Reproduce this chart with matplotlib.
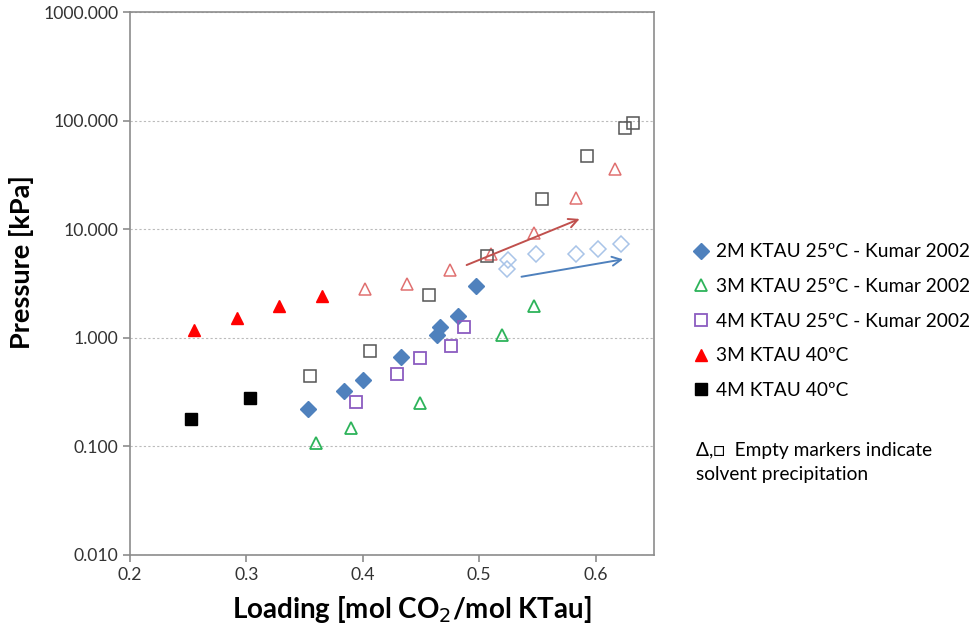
import matplotlib
matplotlib.use("Agg")
import matplotlib.pyplot as plt
from matplotlib.ticker import FixedLocator, FuncFormatter, NullLocator

plt.rcParams['font.family'] = ['Lato', 'DejaVu Sans']

# 2M KTAU 25C - Kumar 2002
kumar2m_x = [0.353, 0.384, 0.400, 0.433, 0.464, 0.466, 0.482, 0.497]
kumar2m_y = [0.222, 0.321, 0.406, 0.662, 1.06, 1.26, 1.59, 3.00]

# 3M KTAU 25C - Kumar 2002
kumar3m_x = [0.360, 0.390, 0.449, 0.520, 0.547]
kumar3m_y = [0.107, 0.148, 0.252, 1.06, 1.94]

# 4M KTAU 25C - Kumar 2002
kumar4m_x = [0.394, 0.429, 0.449, 0.476, 0.487]
kumar4m_y = [0.255, 0.464, 0.657, 0.843, 1.25]

# 3M KTAU 40C
k3m40_x = [0.255, 0.292, 0.328, 0.365]
k3m40_y = [1.19, 1.53, 1.94, 2.40]

# 4M KTAU 40C
k4m40_x = [0.252, 0.303]
k4m40_y = [0.179, 0.280]

# empty markers = solvent precipitation
k3m40_prec_x = [0.402, 0.438, 0.475, 0.510, 0.547, 0.583, 0.617]
k3m40_prec_y = [2.80, 3.12, 4.17, 5.93, 9.19, 19.3, 35.9]

k4m40_prec_x = [0.355, 0.406, 0.457, 0.507, 0.554, 0.593, 0.625, 0.632]
k4m40_prec_y = [0.442, 0.747, 2.48, 5.65, 18.8, 46.7, 85.7, 94.4]

k2m_prec_x = [0.524, 0.525, 0.549, 0.583, 0.602, 0.622]
k2m_prec_y = [4.32, 5.22, 5.93, 5.93, 6.59, 7.33]

# arrows (start, end)
red_arrow = [(0.487, 4.57), (0.5885, 12.7)]
blue_arrow = [(0.534, 3.61), (0.626, 5.33)]

y_ticks = [0.01, 0.1, 1, 10, 100, 1000]
x_ticks = [0.2, 0.3, 0.4, 0.5, 0.6]

#-------------------------------------------------------------------------------

fig = plt.figure(figsize=(9.7, 6.32), dpi=100)
ax = fig.add_axes([0.134, 0.122, 0.540, 0.859])

blue = '#4F81BD'
green = '#2DB35A'
purple = '#8B5CC0'
red = '#FF0000'
pale_red = '#E07070'
pale_blue = '#A9C4E8'
grey = '#555555'

ax.plot(k3m40_prec_x, k3m40_prec_y, linestyle='none', marker='^', ms=9,
        mfc='none', mec=pale_red, mew=1.1)
ax.plot(k4m40_prec_x, k4m40_prec_y, linestyle='none', marker='s', ms=9,
        mfc='none', mec=grey, mew=1.1)
ax.plot(k2m_prec_x, k2m_prec_y, linestyle='none', marker='D', ms=8,
        mfc='none', mec=pale_blue, mew=1.1)

ax.plot(kumar2m_x, kumar2m_y, linestyle='none', marker='D', ms=8,
        mfc=blue, mec=blue, label='2M KTAU 25ºC - Kumar 2002')
ax.plot(kumar3m_x, kumar3m_y, linestyle='none', marker='^', ms=9,
        mfc='none', mec=green, mew=1.3, label='3M KTAU 25ºC - Kumar 2002')
ax.plot(kumar4m_x, kumar4m_y, linestyle='none', marker='s', ms=9,
        mfc='none', mec=purple, mew=1.3, label='4M KTAU 25ºC - Kumar 2002')
ax.plot(k3m40_x, k3m40_y, linestyle='none', marker='^', ms=9,
        mfc=red, mec=red, label='3M KTAU 40ºC')
ax.plot(k4m40_x, k4m40_y, linestyle='none', marker='s', ms=9,
        mfc='black', mec='black', label='4M KTAU 40ºC')

ax.annotate('', xy=red_arrow[1], xytext=red_arrow[0],
            arrowprops=dict(arrowstyle='->', color='#C0504D', lw=1.4,
                            mutation_scale=16))
ax.annotate('', xy=blue_arrow[1], xytext=blue_arrow[0],
            arrowprops=dict(arrowstyle='->', color=blue, lw=1.4,
                            mutation_scale=16))

ax.set_yscale('log')
ax.set_ylim(0.01, 1000)
ax.set_xlim(0.2, 0.65)
ax.yaxis.set_major_locator(FixedLocator(y_ticks))
ax.yaxis.set_minor_locator(NullLocator())
ax.yaxis.set_major_formatter(FuncFormatter(lambda v, p: '%.3f' % v))
ax.xaxis.set_major_locator(FixedLocator(x_ticks))
ax.xaxis.set_major_formatter(FuncFormatter(lambda v, p: '%g' % v))

ax.grid(axis='y', linestyle=(0, (2, 2)), color='#BBBBBB', linewidth=0.8)
for s in ax.spines.values():
    s.set_color('#8C8C8C')
    s.set_linewidth(1.2)
ax.tick_params(direction='out', length=5, color='#8C8C8C', width=1.2,
               labelsize=12.7, labelcolor='#333333')

ax.set_xlabel('Loading [mol CO$_2$/mol KTau]', fontsize=20, fontweight='bold')
ax.set_ylabel('Pressure [kPa]', fontsize=19.5, fontweight='bold')
ax.xaxis.set_label_coords(0.538, -0.072)
ax.yaxis.set_label_coords(-0.183, 0.54)

fig.legend(loc='upper left', bbox_to_anchor=(0.707, 0.627), frameon=False,
           fontsize=13.8, labelspacing=0.92, handlelength=0.8,
           handletextpad=0.4, borderaxespad=0)

fig.text(0.718, 0.268, 'Δ,□  Empty markers indicate\nsolvent precipitation',
         fontsize=13.8, va='center', ha='left', linespacing=1.45)

fig.savefig('out.png', dpi=100)
